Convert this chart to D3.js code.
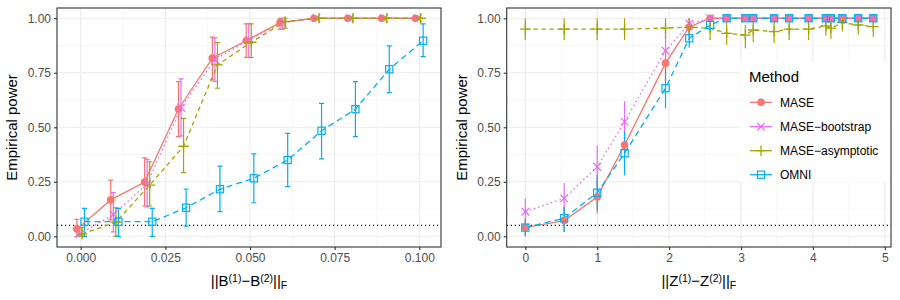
<!DOCTYPE html>
<html><head><meta charset="utf-8">
<script src="https://cdn.jsdelivr.net/npm/d3@7"></script>
<style>body{margin:0;background:#fff}svg{display:block;font-family:"Liberation Sans",Arial,sans-serif}</style>
</head><body><svg id="c" width="900" height="300"></svg>
<script>
const methods = ["MASE","MASE\u2212bootstrap","MASE\u2212asymptotic","OMNI"];
const colors = ["#F8766D","#E76BF3","#A3A500","#00B0F6"];

// Left panel
const xL = [0,0.01,0.02,0.03,0.04,0.05,0.06,0.07,0.08,0.09,0.10];
const maseL = [0.033,0.167,0.249,0.584,0.817,0.897,0.98,1,1,1,1];
const maseLlo = [0.0,0.075,0.139,0.457,0.717,0.821,0.95,1,1,1,1];
const maseLhi = [0.078,0.258,0.36,0.709,0.913,0.974,1,1,1,1,1];
const bootL = [0.01,0.10,0.24,0.59,0.81,0.90,0.98,1,1,1,1];
const bootLlo = [0.0,0.02,0.135,0.46,0.71,0.82,0.95,1,1,1,1];
const bootLhi = [0.04,0.20,0.353,0.722,0.91,0.975,1,1,1,1,1];
const asymL = [0.01,0.065,0.235,0.413,0.786,0.89,0.985,1,1,1,1];
const asymLlo = [0.0,0.0,0.139,0.292,0.679,0.82,0.955,1,1,1,1];
const asymLhi = [0.04,0.13,0.342,0.541,0.888,0.974,1,1,1,1,1];
const omniL = [0.067,0.067,0.067,0.131,0.216,0.266,0.35,0.484,0.583,0.766,0.897];
const omniLlo = [0,0,0,0.047,0.113,0.154,0.228,0.355,0.457,0.659,0.824];
const omniLhi = [0.128,0.128,0.128,0.217,0.322,0.378,0.472,0.61,0.709,0.873,0.974];

// Right panel
const xR = [0,0.54,1.0,1.38,1.95,2.28,2.57,2.80,3.06,3.17,3.46,3.67,3.94,4.18,4.25,4.41,4.63,4.84];
const maseR = [0.04,0.072,0.18,0.419,0.794,0.96,1,1,1,1,1,1,1,1,1,1,1,1];
const maseRlo = [0.0,0.02,0.105,0.32,0.71,0.92,1,1,1,1,1,1,1,1,1,1,1,1];
const maseRhi = [0.08,0.13,0.255,0.52,0.87,1,1,1,1,1,1,1,1,1,1,1,1,1];
const bootR = [0.113,0.174,0.319,0.526,0.851,0.975,1,1,1,1,1,1,1,1,1,1,1,1];
const bootRlo = [0.05,0.10,0.225,0.43,0.77,0.94,1,1,1,1,1,1,1,1,1,1,1,1];
const bootRhi = [0.175,0.245,0.415,0.62,0.93,1,1,1,1,1,1,1,1,1,1,1,1,1];
const asymR = [0.95,0.95,0.95,0.95,0.955,0.959,0.954,0.931,0.923,0.946,0.939,0.95,0.95,0.965,0.955,0.98,0.969,0.962];
const asymRlo = [0.90,0.90,0.90,0.90,0.905,0.91,0.90,0.878,0.862,0.89,0.885,0.90,0.90,0.92,0.905,0.94,0.925,0.915];
const asymRhi = [1.0,1.0,1.0,1.0,1.0,1.0,1.0,0.985,0.969,0.995,0.99,1.0,1.0,1.0,1.0,1.0,1.0,1.0];
const omniR = [0.04,0.083,0.2,0.381,0.679,0.908,0.969,1,1,1,1,1,1,1,1,1,1,1];
const omniRlo = [0.0,0.02,0.12,0.28,0.587,0.865,0.94,1,1,1,1,1,1,1,1,1,1,1];
const omniRhi = [0.08,0.136,0.28,0.48,0.77,0.955,1,1,1,1,1,1,1,1,1,1,1,1];

const yTicks = [0,0.25,0.5,0.75,1];
const yMinor = [0.125,0.375,0.625,0.875];
const xTicksL = [0,0.025,0.05,0.075,0.1];
const xMinorL = [0.0125,0.0375,0.0625,0.0875];
const xTicksR = [0,1,2,3,4,5];
const xMinorR = [0.5,1.5,2.5,3.5,4.5];
const alpha = 0.05;

const svg = d3.select("#c");
const pTop = 8, pBottom = 247;
const y = d3.scaleLinear().domain([-0.049,1.047]).range([pBottom, pTop]);

function series(xs, vals, lo, hi){
  return xs.map((x,i)=>({x, v: vals[i], lo: lo[i], hi: hi[i]}));
}
const leftSeries = [series(xL,maseL,maseLlo,maseLhi),series(xL,bootL,bootLlo,bootLhi),series(xL,asymL,asymLlo,asymLhi),series(xL,omniL,omniLlo,omniLhi)];
const rightSeries = [series(xR,maseR,maseRlo,maseRhi),series(xR,bootR,bootRlo,bootRhi),series(xR,asymR,asymRlo,asymRhi),series(xR,omniR,omniRlo,omniRhi)];

const dashes = [null, "1.5,3", "4.5,3.5", "6,4"];

function marker(g, k, cx, cy){
  const c = colors[k];
  if(k===0) g.append("circle").attr("cx",cx).attr("cy",cy).attr("r",3.8).attr("fill",c);
  else if(k===1){ const s=3.8;
    g.append("path").attr("d",`M${cx-s},${cy-s}L${cx+s},${cy+s}M${cx-s},${cy+s}L${cx+s},${cy-s}`).attr("stroke",c).attr("stroke-width",1.2);}
  else if(k===2){ const s=5.3;
    g.append("path").attr("d",`M${cx-s},${cy}L${cx+s},${cy}M${cx},${cy-s}L${cx},${cy+s}`).attr("stroke",c).attr("stroke-width",1.3);}
  else { const s=3.6;
    g.append("rect").attr("x",cx-s).attr("y",cy-s).attr("width",2*s).attr("height",2*s).attr("fill","none").attr("stroke",c).attr("stroke-width",1.2);}
}

function panel(x0, x1, domain, ticks, minor, data, dodge, cap, fmt, titleParts, ytitleX){
  const x = d3.scaleLinear().domain(domain).range([x0,x1]);
  const g = svg.append("g");
  g.append("rect").attr("x",x0).attr("y",pTop).attr("width",x1-x0).attr("height",pBottom-pTop).attr("fill","#fff");
  g.selectAll(null).data(yMinor).enter().append("line").attr("x1",x0).attr("x2",x1).attr("y1",d=>y(d)).attr("y2",d=>y(d)).attr("stroke","#F2F2F2").attr("stroke-width",0.6);
  g.selectAll(null).data(minor).enter().append("line").attr("y1",pTop).attr("y2",pBottom).attr("x1",d=>x(d)).attr("x2",d=>x(d)).attr("stroke","#F2F2F2").attr("stroke-width",0.6);
  g.selectAll(null).data(yTicks).enter().append("line").attr("x1",x0).attr("x2",x1).attr("y1",d=>y(d)).attr("y2",d=>y(d)).attr("stroke","#EBEBEB").attr("stroke-width",1.1);
  g.selectAll(null).data(ticks).enter().append("line").attr("y1",pTop).attr("y2",pBottom).attr("x1",d=>x(d)).attr("x2",d=>x(d)).attr("stroke","#EBEBEB").attr("stroke-width",1.1);
  g.append("line").attr("x1",x0).attr("x2",x1).attr("y1",y(alpha)).attr("y2",y(alpha)).attr("stroke","#000").attr("stroke-width",1.2).attr("stroke-dasharray","1.2,2.8");
  const px = (d,k)=>x(d.x + dodge[k]);
  data.forEach((s,k)=>{
    const eg = g.append("g").attr("stroke",colors[k]).attr("stroke-width",1.2).attr("fill","none");
    s.forEach(d=>{
      const cx = px(d,k);
      eg.append("path").attr("d",`M${cx},${y(d.lo)}L${cx},${y(d.hi)}` + (cap>0?`M${cx-cap},${y(d.lo)}L${cx+cap},${y(d.lo)}M${cx-cap},${y(d.hi)}L${cx+cap},${y(d.hi)}`:""));
    });
  });
  const line = d3.line();
  data.forEach((s,k)=>{
    g.append("path").attr("d",line(s.map(d=>[px(d,k),y(d.v)]))).attr("fill","none").attr("stroke",colors[k]).attr("stroke-width",1.3).attr("stroke-dasharray",dashes[k]);
  });
  data.forEach((s,k)=>{ s.forEach(d=>marker(g,k,px(d,k),y(d.v))); });
  g.append("rect").attr("x",x0).attr("y",pTop).attr("width",x1-x0).attr("height",pBottom-pTop).attr("fill","none").attr("stroke","#333333").attr("stroke-width",1.1);
  const ya = g.append("g").attr("transform",`translate(${x0},0)`).call(d3.axisLeft(y).tickValues(yTicks).tickFormat(d3.format(".2f")).tickSize(3).tickPadding(3));
  const xa = g.append("g").attr("transform",`translate(0,${pBottom})`).call(d3.axisBottom(x).tickValues(ticks).tickFormat(fmt).tickSize(3).tickPadding(3));
  [ya,xa].forEach(a=>{ a.select(".domain").remove(); a.selectAll(".tick line").attr("stroke","#333333").attr("stroke-width",1.1);
    a.selectAll("text").attr("fill","#4D4D4D").style("font-size","12px").style("font-family","'Liberation Sans',Arial,sans-serif"); });
  const t = g.append("text").attr("x",(x0+x1)/2).attr("y",286).attr("text-anchor","middle").style("font-size","15px").attr("fill","#000");
  titleParts.forEach(p=>{
    const ts = t.append("tspan").text(p.t);
    if(p.s==="sup") ts.attr("baseline-shift","40%").style("font-size","10.5px");
    if(p.s==="sub") ts.attr("baseline-shift","-25%").style("font-size","10.5px");
  });
  g.append("text").attr("transform",`translate(${ytitleX},${(pTop+pBottom)/2}) rotate(-90)`).attr("text-anchor","middle").style("font-size","15px").text("Empirical power");
  return x;
}

const dodgeL = [-0.001125,-0.000375,0.000375,0.001125];
const dodgeR = [0,0,0,0];
panel(57,441,[-0.0070,0.1064],xTicksL,xMinorL,leftSeries,dodgeL,2.5,d3.format(".3f"),
  [{t:"||B"},{t:"(1)",s:"sup"},{t:"\u2212B"},{t:"(2)",s:"sup"},{t:"||"},{t:"F",s:"sub"}],17);
panel(506.7,891,[-0.259,5.086],xTicksR,xMinorR,rightSeries,dodgeR,0,d3.format("d"),
  [{t:"||Z"},{t:"(1)",s:"sup"},{t:"\u2212Z"},{t:"(2)",s:"sup"},{t:"||"},{t:"F",s:"sub"}],467);

const lg = svg.append("g");
lg.append("rect").attr("x",740).attr("y",62).attr("width",150).attr("height",120).attr("fill","#fff");
lg.append("text").attr("x",749).attr("y",82).style("font-size","15px").text("Method");
const ly = [102.3,126.7,150.7,174.7];
methods.forEach((m,k)=>{
  lg.append("line").attr("x1",750).attr("x2",772).attr("y1",ly[k]).attr("y2",ly[k]).attr("stroke",colors[k]).attr("stroke-width",1.3);
  marker(lg,k,761,ly[k]);
  lg.append("text").attr("x",780).attr("y",ly[k]+4.3).style("font-size","12px").attr("fill","#000").text(m);
});
</script></body></html>
